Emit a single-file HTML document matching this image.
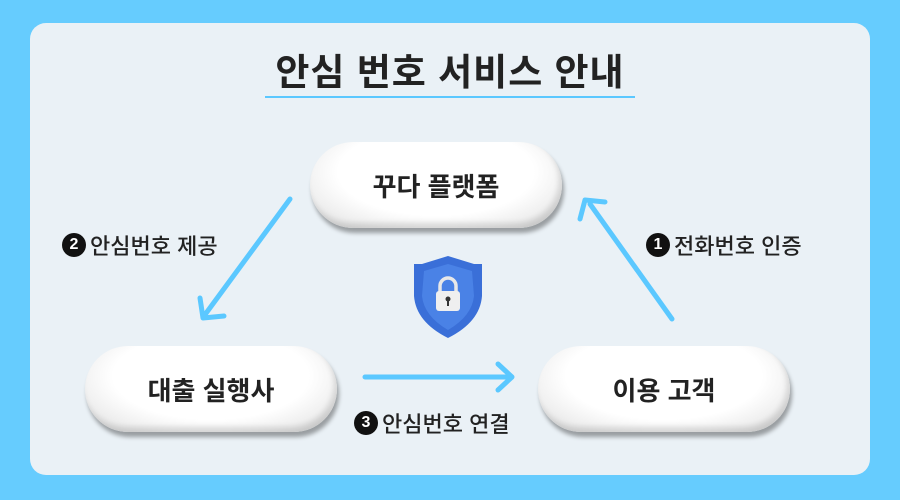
<!DOCTYPE html>
<html><head><meta charset="utf-8"><style>
body{margin:0;width:900px;height:500px;background:#66ccfe;overflow:hidden;font-family:"Liberation Sans","Noto Sans CJK KR",sans-serif}
.panel{position:absolute;left:30px;top:23px;width:840px;height:452px;background:#eaf1f6;border-radius:16px}
.title{position:absolute;left:0;top:42px;width:900px;text-align:center;font-size:37px;font-weight:bold;color:#222;letter-spacing:1px}
.line{position:absolute;left:265px;top:96px;width:370px;height:2px;background:#5bc8ff}
.pill{position:absolute;width:252px;height:86px;border-radius:43px;background:radial-gradient(ellipse at 50% 35%,#fff 55%,#f0f0f0 75%,#d8d8d8 100%);box-shadow:2px 5px 4px rgba(0,0,0,.35),inset -3px -5px 6px rgba(0,0,0,.12);display:flex;align-items:center;justify-content:center;font-size:26px;font-weight:bold;color:#222}
.lbl{position:absolute;font-size:22px;font-weight:500;color:#222;display:flex;align-items:center;gap:4px;white-space:nowrap}
.num{display:inline-block;width:24px;height:24px;border-radius:50%;background:#111;color:#fff;font-size:16px;font-weight:bold;text-align:center;line-height:24px}
</style></head><body>
<div class="panel"></div>
<div class="title">안심 번호 서비스 안내</div>
<div class="line"></div>
<div class="pill" style="left:310px;top:142px">꾸다 플랫폼</div>
<div class="pill" style="left:85px;top:346px">대출 실행사</div>
<div class="pill" style="left:538px;top:346px">이용 고객</div>
<svg style="position:absolute;left:0;top:0" width="900" height="500">
<g stroke="#5bc8ff" stroke-width="5" stroke-linecap="round" fill="none" stroke-linejoin="round">
<line x1="290" y1="199" x2="204" y2="316"/><polyline points="200,298 203,318 224,316"/>
<line x1="672" y1="319" x2="590" y2="204"/><polyline points="580,219 585,200 605,202"/>
<line x1="365" y1="377" x2="510" y2="377"/><polyline points="498,364 512,377 498,390"/>
</g>
<g transform="translate(412,256)">
<path d="M36 0 L62 8 L70 8 L70 40 Q68 66 36 82 Q4 66 2 40 L2 8 L10 8 Z" fill="#3a6fd8"/>
<path d="M36 8 L60 15 L62 40 Q60 60 36 74 Q12 60 10 40 L12 15 Z" fill="#4a82e6"/>
<path d="M28 36 v-6 a8 8 0 0 1 16 0 v6" stroke="#e8e8e8" stroke-width="3.5" fill="none"/>
<rect x="24" y="35" width="24" height="20" rx="3" fill="#efefef"/>
<circle cx="36" cy="43" r="2.5" fill="#333"/><rect x="35" y="44" width="2" height="6" fill="#333"/>
</g>
</svg>
<div class="lbl" style="left:62px;top:229px"><span class="num">2</span>안심번호 제공</div>
<div class="lbl" style="left:646px;top:229px"><span class="num">1</span>전화번호 인증</div>
<div class="lbl" style="left:354px;top:407px"><span class="num">3</span>안심번호 연결</div>
</body></html>
